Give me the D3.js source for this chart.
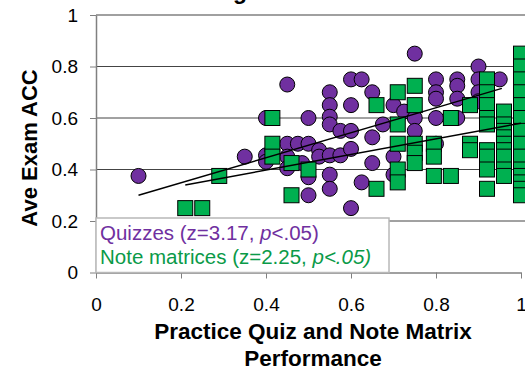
<!DOCTYPE html>
<html>
<head>
<meta charset="utf-8">
<script src="https://cdn.jsdelivr.net/npm/d3@7"></script>
<style>
  body { margin: 0; background: #fff; }
  text { font-family: Arial, "Liberation Sans", sans-serif; }
</style>
</head>
<body>
<svg id="chart" width="525" height="372"></svg>
<script>
// Quizzes: practice score vs exam accuracy
const quizX = [0.10, 0.35, 0.40, 0.40, 0.40, 0.45, 0.45, 0.45, 0.45, 0.475, 0.485,
  0.50, 0.50, 0.50, 0.50, 0.525, 0.525, 0.55, 0.55, 0.55, 0.55, 0.55, 0.55, 0.55,
  0.575, 0.575, 0.60, 0.60, 0.60, 0.60, 0.60, 0.625, 0.625, 0.65, 0.65, 0.65, 0.675,
  0.70, 0.70, 0.70, 0.725, 0.75, 0.75, 0.75, 0.80, 0.80, 0.80, 0.80, 0.80,
  0.85, 0.85, 0.85, 0.85, 0.90, 0.90, 0.90, 0.90, 0.95];
const quizY = [0.375, 0.45, 0.60, 0.455, 0.43, 0.73, 0.50, 0.45, 0.405, 0.50, 0.425,
  0.60, 0.50, 0.37, 0.30, 0.475, 0.45, 0.70, 0.65, 0.605, 0.575, 0.455, 0.38, 0.325,
  0.55, 0.455, 0.75, 0.65, 0.55, 0.48, 0.25, 0.75, 0.35, 0.70, 0.525, 0.425, 0.575,
  0.65, 0.45, 0.38, 0.625, 0.85, 0.60, 0.55, 0.75, 0.70, 0.675, 0.60, 0.50,
  0.75, 0.725, 0.675, 0.60, 0.80, 0.75, 0.70, 0.665, 0.75];

// Note matrices
const noteX = [0.21, 0.25, 0.29, 0.415, 0.415, 0.415, 0.46, 0.46, 0.50, 0.66, 0.66,
  0.71, 0.71, 0.71, 0.71, 0.71, 0.75, 0.75, 0.75, 0.75, 0.75, 0.795, 0.795, 0.795,
  0.835, 0.835, 0.88, 0.88, 0.88,
  0.92, 0.92, 0.92, 0.92, 0.92, 0.92, 0.92, 0.92, 0.92,
  0.96, 0.96, 0.96, 0.96, 0.96, 0.96, 0.96, 0.96, 0.96,
  1.0, 1.0, 1.0, 1.0, 1.0, 1.0, 1.0, 1.0, 1.0, 1.0, 1.0, 1.0, 1.0, 1.0];
const noteY = [0.25, 0.25, 0.375, 0.60, 0.50, 0.45, 0.425, 0.30, 0.40, 0.65, 0.325,
  0.70, 0.575, 0.50, 0.40, 0.35, 0.725, 0.65, 0.50, 0.465, 0.425, 0.50, 0.45, 0.375,
  0.60, 0.375, 0.65, 0.50, 0.475,
  0.75, 0.70, 0.65, 0.60, 0.575, 0.475, 0.45, 0.40, 0.325,
  0.625, 0.575, 0.55, 0.525, 0.50, 0.475, 0.45, 0.40, 0.375,
  0.85, 0.80, 0.75, 0.70, 0.65, 0.60, 0.55, 0.50, 0.45, 0.40, 0.375, 0.35, 0.325, 0.30];

// Linear trend lines [x, y]
const quizTrend = [[0.10, 0.30], [0.955, 0.715]];
const noteTrend = [[0.21, 0.34], [1.0, 0.58]];

const xTicks = [0, 0.2, 0.4, 0.6, 0.8, 1];
const yTicks = [0, 0.2, 0.4, 0.6, 0.8, 1];
const gridValues = [0.2, 0.4, 0.6, 0.8];

const purple = '#7030A0';
const green = '#00B050';

const svg = d3.select('#chart');

const x = d3.scaleLinear().domain([0, 1]).range([96, 521]);
const y = d3.scaleLinear().domain([0, 1]).range([272.5, 15]);

// top border of plot area
svg.append('line')
  .attr('x1', x(0)).attr('x2', 540)
  .attr('y1', y(1)).attr('y2', y(1))
  .attr('stroke', '#808080').attr('stroke-width', 1.5);

// horizontal gridlines
svg.selectAll('.grid')
  .data(gridValues)
  .enter().append('line')
  .attr('x1', x(0)).attr('x2', 540)
  .attr('y1', d => y(d)).attr('y2', d => y(d))
  .attr('stroke', '#444').attr('stroke-width', 1);

// axes
const yAxis = svg.append('g')
  .attr('transform', `translate(${x(0)},0)`)
  .call(d3.axisLeft(y).tickValues(yTicks).tickSize(6).tickSizeOuter(0).tickPadding(12).tickFormat(d => d));
const xAxis = svg.append('g')
  .attr('transform', `translate(0,${y(0)})`)
  .call(d3.axisBottom(x).tickValues(xTicks).tickSize(6).tickSizeOuter(0).tickPadding(19).tickFormat(d => d));

[yAxis, xAxis].forEach(a => {
  a.select('.domain').attr('stroke', '#808080').attr('stroke-width', 1.5);
  a.selectAll('.tick line').attr('stroke', '#808080');
  a.selectAll('.tick text').attr('fill', '#000').style('font-size', '19px')
    .style('font-family', 'Arial, "Liberation Sans", sans-serif');
});

// quiz circles
svg.append('g').selectAll('circle')
  .data(quizX.map((d, i) => [d, quizY[i]]))
  .enter().append('circle')
  .attr('cx', d => x(d[0]))
  .attr('cy', d => y(d[1]))
  .attr('r', 7.5)
  .attr('fill', purple)
  .attr('stroke', '#000')
  .attr('stroke-width', 1);

// note matrix squares
const side = 15;
svg.append('g').selectAll('rect')
  .data(noteX.map((d, i) => [d, noteY[i]]))
  .enter().append('rect')
  .attr('x', d => x(d[0]) - side / 2)
  .attr('y', d => y(d[1]) - side / 2)
  .attr('width', side)
  .attr('height', side)
  .attr('fill', green)
  .attr('stroke', '#000')
  .attr('stroke-width', 1);

// trend lines
const line = d3.line().x(d => x(d[0])).y(d => y(d[1]));
[quizTrend, noteTrend].forEach(t => {
  svg.append('path')
    .attr('d', line(t))
    .attr('fill', 'none')
    .attr('stroke', '#000')
    .attr('stroke-width', 1.5);
});

// legend
const legend = svg.append('g');
legend.append('rect')
  .attr('x', 96).attr('y', 218)
  .attr('width', 293).attr('height', 54.5)
  .attr('fill', '#fff')
  .attr('stroke', '#b8b8b8').attr('stroke-width', 1.5);

const l1 = legend.append('text')
  .attr('x', 100).attr('y', 240)
  .attr('fill', purple)
  .style('font-size', '20.5px');
l1.append('tspan').text('Quizzes (z=3.17, ');
l1.append('tspan').style('font-style', 'italic').text('p');
l1.append('tspan').text('<.05)');

const l2 = legend.append('text')
  .attr('x', 100).attr('y', 264)
  .attr('fill', '#0A9A48')
  .style('font-size', '20.5px');
l2.append('tspan').text('Note matrices (z=2.25, ');
l2.append('tspan').style('font-style', 'italic').text('p<.05)');

// titles
svg.append('text')
  .attr('x', 150).attr('y', -1.5)
  .style('font-size', '23px').style('font-weight', 'bold')
  .text('Learning');

svg.append('text')
  .attr('transform', 'translate(37,148) rotate(-90)')
  .attr('text-anchor', 'middle')
  .style('font-size', '22px').style('font-weight', 'bold')
  .text('Ave Exam ACC');

const xt = svg.append('text')
  .attr('text-anchor', 'middle')
  .style('font-size', '22.5px').style('font-weight', 'bold');
xt.append('tspan').attr('x', 313).attr('y', 339).text('Practice Quiz and Note Matrix');
xt.append('tspan').attr('x', 313).attr('y', 366).text('Performance');
</script>
</body>
</html>
